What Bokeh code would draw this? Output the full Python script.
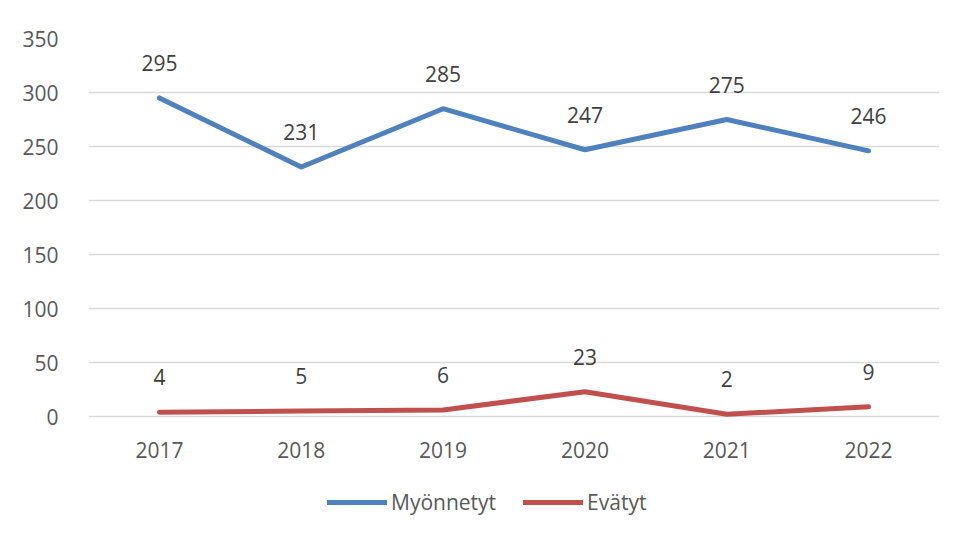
from bokeh.plotting import figure
from bokeh.models import ColumnDataSource, Legend, LegendItem, Range1d, FactorRange, FixedTicker
from bokeh.core.properties import value
from bokeh.embed import file_html
from bokeh.resources import INLINE

years = ["2017", "2018", "2019", "2020", "2021", "2022"]
myonnetyt = [295, 231, 285, 247, 275, 246]
evatyt = [4, 5, 6, 23, 2, 9]
series_names = ["Myönnetyt", "Evätyt"]
y_ticks = [0, 50, 100, 150, 200, 250, 300, 350]

FONT = "Open Sans"
TXT = "#595959"
BLUE = "#4f81bd"
RED = "#c0504d"

# frame extends below the 0 line so that the category labels and legend live inside it
PLOT_H = 378          # px between 0 and 350
EXTRA_H = 114         # px below the 0 line
Y_MIN = -350 * EXTRA_H / PLOT_H

p = figure(width=952, height=533, frame_width=851, frame_height=PLOT_H + EXTRA_H,
           x_range=FactorRange(*years), y_range=Range1d(Y_MIN, 350),
           x_axis_location=None,
           output_backend="svg", toolbar_location=None,
           min_border_left=88, min_border_right=13, min_border_top=38, min_border_bottom=3)
p.outline_line_color = None
p.background_fill_color = "white"
p.border_fill_color = "white"

p.yaxis.ticker = FixedTicker(ticks=y_ticks)
p.ygrid.ticker = FixedTicker(ticks=y_ticks)
p.ygrid.grid_line_color = "#d9d9d9"
p.ygrid.grid_line_width = 1.5
p.xgrid.grid_line_color = None

p.yaxis.major_tick_line_color = None
p.yaxis.minor_tick_line_color = None
p.yaxis.major_label_text_font = FONT
p.yaxis.major_label_text_font_size = "21px"
p.yaxis.major_label_text_color = TXT
p.yaxis.axis_line_color = None
p.yaxis.major_label_standoff = 24

src = ColumnDataSource(dict(x=years, a=myonnetyt, b=evatyt, zero=[0] * len(years),
                            la=[str(v) for v in myonnetyt], lb=[str(v) for v in evatyt]))

r1 = p.line("x", "a", source=src, line_color=BLUE, line_width=5, line_cap="round", line_join="round")
r2 = p.line("x", "b", source=src, line_color=RED, line_width=5, line_cap="round", line_join="round")

for col, lab in (("a", "la"), ("b", "lb")):
    p.text("x", col, text=lab, source=src, y_offset=-35, text_align="center",
           text_baseline="middle", text_font=value(FONT), text_font_size="21px", text_color="#404040")

# category labels under the 0 line
p.text("x", "zero", text="x", source=src, y_offset=33, text_align="center",
       text_baseline="middle", text_font=value(FONT), text_font_size="21px", text_color=TXT)

legend = Legend(items=[LegendItem(label=series_names[0], renderers=[r1]),
                       LegendItem(label=series_names[1], renderers=[r2])],
                orientation="horizontal", location=(239, 14))
legend.border_line_color = None
legend.background_fill_alpha = 0
legend.label_text_font = FONT
legend.label_text_font_size = "21px"
legend.label_text_color = TXT
legend.glyph_width = 60
legend.glyph_height = 20
legend.label_standoff = 4
legend.spacing = 27
legend.padding = 0
legend.margin = 0
p.add_layout(legend, "center")

open("out.html", "w").write(file_html(p, INLINE))
